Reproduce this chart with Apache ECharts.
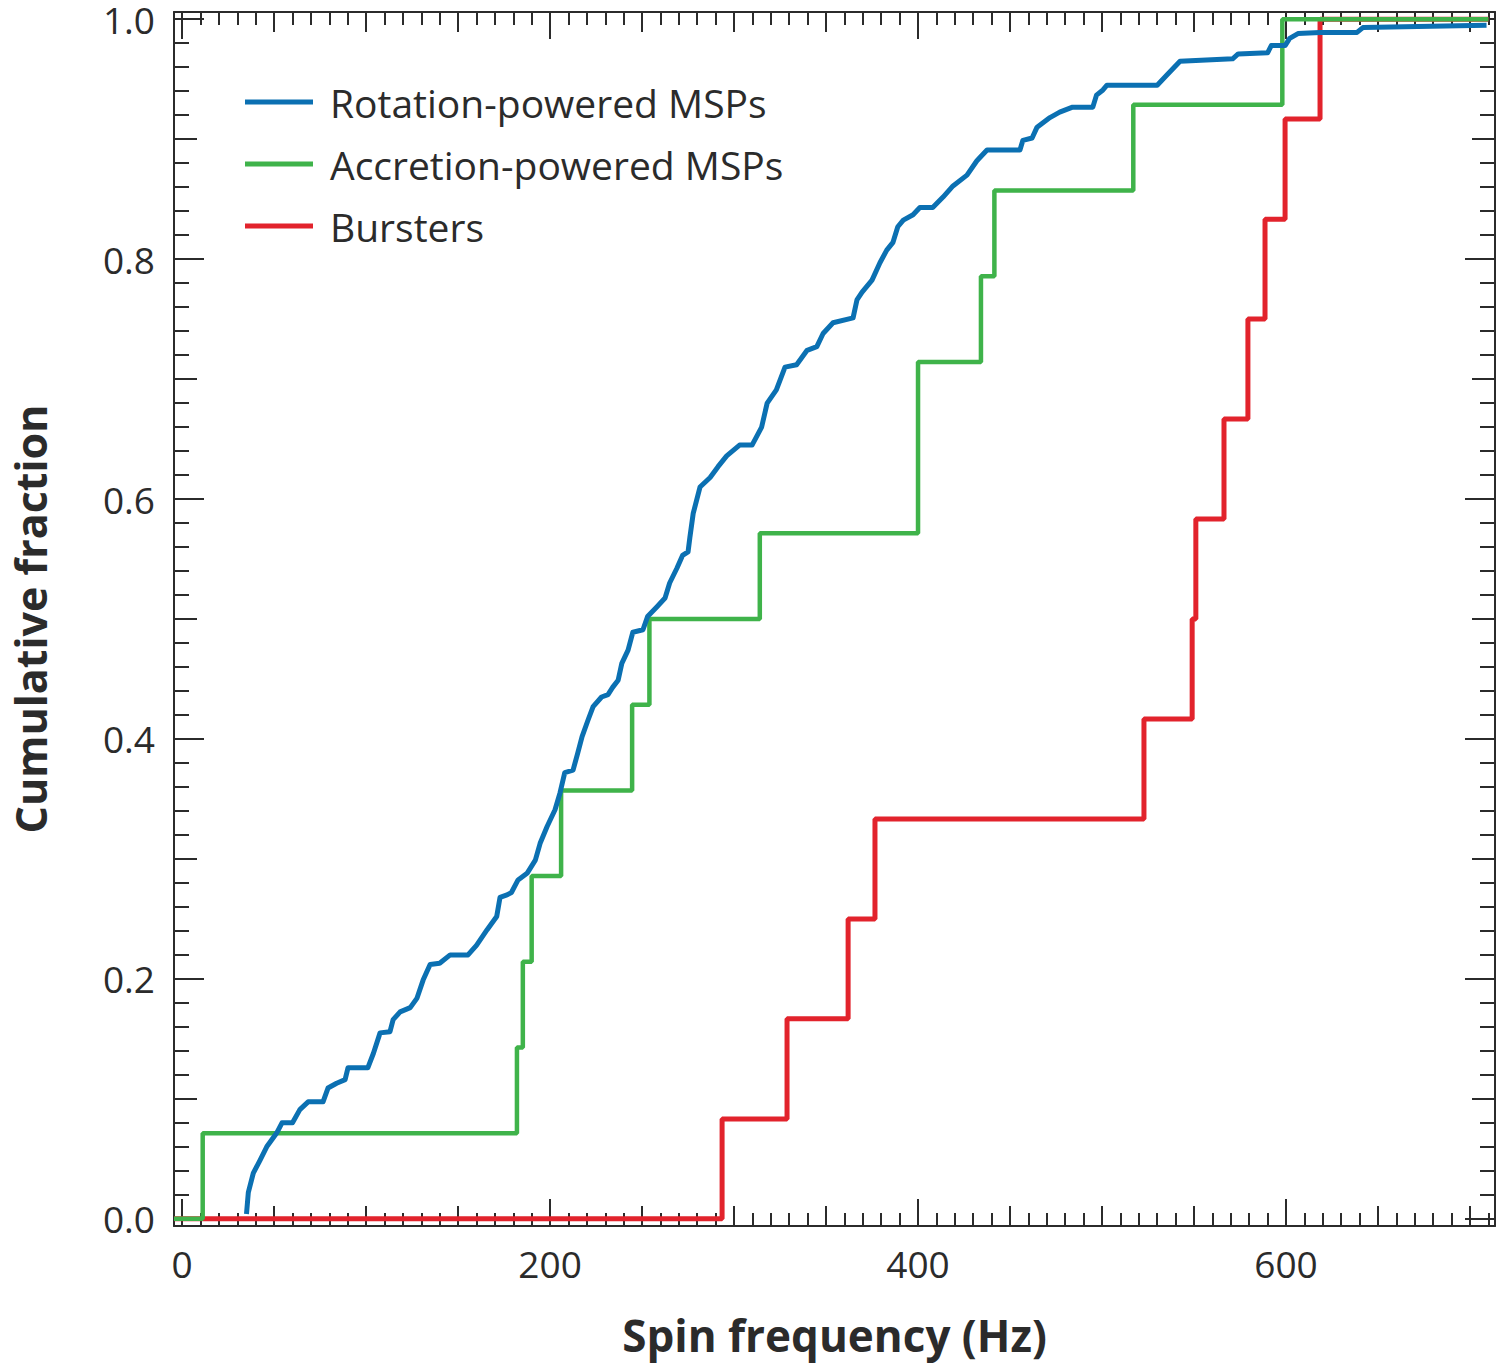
<!DOCTYPE html>
<html><head><meta charset="utf-8">
<script src="https://cdn.jsdelivr.net/npm/echarts@6/dist/echarts.min.js"></script>
<style>html,body{margin:0;padding:0;background:#fff}#c{width:1501px;height:1368px}</style>
</head><body><div id="c"></div>
<script>
// ---- data (spin frequency in Hz, cumulative fraction) ----
const rotationMSPs = [
  [35,0.004],[36,0.022],[38.7,0.038],[42.4,0.049],[46,0.06],[51.6,0.072],[54.3,0.08],[60,0.08],
  [64,0.091],[68.5,0.0975],[76.6,0.0975],[79.3,0.109],[84,0.113],[88.6,0.116],[90.2,0.126],
  [101,0.126],[104,0.138],[107.6,0.155],[113,0.156],[114.7,0.166],[118.5,0.1725],[124,0.176],
  [127.7,0.184],[131,0.199],[134.8,0.212],[140,0.213],[145.7,0.22],[155.4,0.22],[160,0.228],
  [165.8,0.241],[171,0.252],[172.8,0.268],[176.6,0.27],[179,0.272],[182.6,0.2825],[187.5,0.288],
  [192,0.299],[194.6,0.313],[198.4,0.327],[202.7,0.341],[205.4,0.355],[208,0.372],[212.5,0.374],
  [215,0.388],[217.4,0.402],[220.7,0.416],[223.4,0.427],[228,0.435],[231.5,0.437],[234,0.443],
  [237,0.449],[239,0.463],[242.4,0.474],[245,0.489],[250.5,0.491],[253,0.502],[258,0.51],
  [262.5,0.5175],[265,0.53],[269,0.5425],[272,0.553],[275,0.556],[276,0.568],[277.8,0.588],
  [281.5,0.61],[287,0.618],[291.3,0.627],[296,0.636],[303,0.645],[309.8,0.645],[315,0.66],
  [318,0.68],[323,0.691],[327.7,0.71],[334,0.712],[339.7,0.724],[345,0.727],[348.4,0.738],
  [353.8,0.747],[364.7,0.751],[366.8,0.766],[369.6,0.7725],[375,0.7825],[379.3,0.797],
  [383,0.8075],[386.4,0.814],[389,0.827],[392,0.8325],[397.3,0.837],[401,0.843],[408,0.843],
  [413.6,0.8517],[419,0.861],[426.6,0.87],[432,0.882],[437.5,0.891],[455.4,0.891],[457,0.899],
  [462,0.901],[464.7,0.91],[471.7,0.918],[477,0.9225],[484,0.9267],[495,0.9267],[497,0.9367],
  [500.5,0.941],[502.7,0.945],[530,0.945],[535,0.953],[542.4,0.965],[571,0.967],[574,0.971],
  [590,0.972],[592,0.978],[599.5,0.978],[602,0.984],[606.5,0.988],[618.5,0.989],[638.6,0.989],
  [641.8,0.993],[709,0.995]
];
const accretionMSPs = [
  [-4.4,0],[11.2,0.0714],[182,0.1429],[185.2,0.2143],[190,0.2857],[206,0.3571],[244.6,0.4286],
  [254,0.5],[314,0.5714],[400,0.7143],[434.2,0.7857],[441.5,0.8571],[517,0.9286],[598,1.0],[710,1.0]
];
const bursters = [
  [-4.4,0],[293.5,0.0833],[328.8,0.1667],[362,0.25],[376.6,0.3333],[522.8,0.4167],[549,0.5],
  [551,0.5833],[566.3,0.6667],[579.3,0.75],[588.6,0.8333],[599.5,0.9167],[618.5,1.0],[710,1.0]
];
const seriesNames = ['Rotation-powered MSPs','Accretion-powered MSPs','Bursters'];
const xLabelTicks = [0,200,400,600];
const yLabelTicks = [0,0.2,0.4,0.6,0.8,1.0];
const xMidTicks = []; for (let v = 0; v <= 700; v += 50) xMidTicks.push(v);
const xMinorTicks = []; for (let v = 0; v <= 710; v += 10) xMinorTicks.push(v);
const yMidTicks = []; for (let i = 0; i <= 10; i++) yMidTicks.push(+(i*0.1).toFixed(2));
const yMinorTicks = []; for (let i = 0; i <= 50; i++) yMinorTicks.push(+(i*0.02).toFixed(2));

const X_MIN = -4.4, X_MAX = 713.6, Y_MIN = -0.006, Y_MAX = 1.006;
const INK = '#2b2b2b';
const FONT = '"Open Sans", "Noto Sans", sans-serif';

function xAx(pos, ticks, len, extra) {
  return Object.assign({
    type: 'value', position: pos, min: X_MIN, max: X_MAX,
    axisLine: {show: false, onZero: false},
    axisTick: {show: true, inside: true, length: len, customValues: ticks, lineStyle: {color: INK, width: 2}},
    axisLabel: {show: false}, splitLine: {show: false}
  }, extra || {});
}
function yAx(pos, ticks, len, extra) {
  return Object.assign({
    type: 'value', position: pos, min: Y_MIN, max: Y_MAX,
    axisLine: {show: false, onZero: false},
    axisTick: {show: true, inside: true, length: len, customValues: ticks, lineStyle: {color: INK, width: 2}},
    axisLabel: {show: false}, splitLine: {show: false}
  }, extra || {});
}
const frameLine = {show: true, onZero: false, lineStyle: {color: INK, width: 2}};

const chart = echarts.init(document.getElementById('c'), null, {renderer: 'svg'});
chart.setOption({
  animation: false,
  backgroundColor: '#fff',
  grid: {left: 174, right: 6, top: 12, bottom: 142, containLabel: false, outerBoundsMode: 'none'},
  legend: {
    orient: 'vertical', left: 245, top: 82, padding: 0, itemWidth: 68, itemHeight: 5, itemGap: 22,
    icon: 'rect', data: seriesNames,
    textStyle: {fontFamily: FONT, fontSize: 39, color: INK, lineHeight: 40, padding: [0,0,0,12]}
  },
  xAxis: [
    xAx('bottom', xLabelTicks, 27, {
      axisLine: frameLine,
      axisLabel: {show: true, customValues: xLabelTicks, margin: 19, fontFamily: FONT, fontSize: 37, color: INK},
      name: 'Spin frequency (Hz)', nameLocation: 'middle', nameGap: 87,
      nameTextStyle: {fontFamily: FONT, fontSize: 44, fontWeight: 'bold', color: INK}
    }),
    xAx('bottom', xMidTicks, 20),
    xAx('bottom', xMinorTicks, 13),
    xAx('top', xLabelTicks, 27, {axisLine: frameLine}),
    xAx('top', xMidTicks, 20),
    xAx('top', xMinorTicks, 13)
  ],
  yAxis: [
    yAx('left', yLabelTicks, 30, {
      axisLine: frameLine,
      axisLabel: {show: true, customValues: yLabelTicks, margin: 19, fontFamily: FONT, fontSize: 37, color: INK,
        lineHeight: 30, formatter: v => Number(v).toFixed(1)},
      name: 'Cumulative fraction', nameLocation: 'middle', nameGap: 122,
      nameTextStyle: {fontFamily: FONT, fontSize: 43, fontWeight: 'bold', color: INK, lineHeight: 43}
    }),
    yAx('left', yMidTicks, 23),
    yAx('left', yMinorTicks, 15),
    yAx('right', yLabelTicks, 30, {axisLine: frameLine}),
    yAx('right', yMidTicks, 23),
    yAx('right', yMinorTicks, 15)
  ],
  series: [
    {name: seriesNames[0], type: 'line', data: rotationMSPs, showSymbol: false, z: 5,
     color: '#0b70b2', lineStyle: {width: 5, color: '#0b70b2', join: 'round'}},
    {name: seriesNames[1], type: 'line', step: 'end', data: accretionMSPs, showSymbol: false, z: 4,
     color: '#3fb34a', lineStyle: {width: 4.5, color: '#3fb34a'}},
    {name: seriesNames[2], type: 'line', step: 'end', data: bursters, showSymbol: false, z: 3,
     color: '#e2232c', lineStyle: {width: 5, color: '#e2232c'}}
  ]
});
</script></body></html>
